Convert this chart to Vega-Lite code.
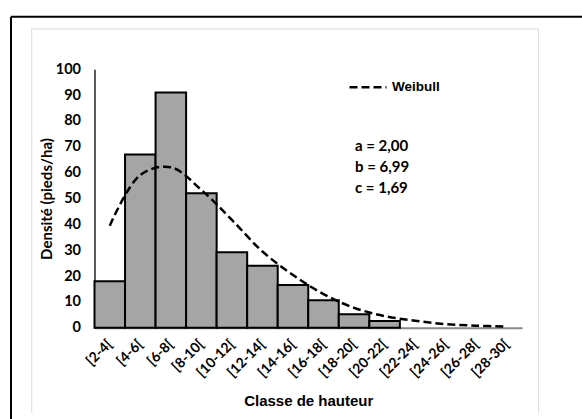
{
  "$schema": "https://vega.github.io/schema/vega-lite/v6.json",
  "width": 427.5,
  "height": 258.4,
  "autosize": {"type": "none"},
  "padding": {"left": 94.5, "top": 69.3, "right": 60, "bottom": 91.3},
  "background": "white",
  "config": {
    "view": {"stroke": null},
    "axis": {"grid": false, "ticks": false, "labelColor": "black", "titleColor": "black"}
  },
  "datasets": {
    "classes": [
      {"classe": "[2-4[", "debut": 2, "fin": 4, "centre": 3, "densite": 18, "weibull": 39.5},
      {"classe": "[4-6[", "debut": 4, "fin": 6, "centre": 5, "densite": 67, "weibull": 59.1},
      {"classe": "[6-8[", "debut": 6, "fin": 8, "centre": 7, "densite": 91, "weibull": 62.1},
      {"classe": "[8-10[", "debut": 8, "fin": 10, "centre": 9, "densite": 52, "weibull": 53.3},
      {"classe": "[10-12[", "debut": 10, "fin": 12, "centre": 11, "densite": 29.2, "weibull": 41.7},
      {"classe": "[12-14[", "debut": 12, "fin": 14, "centre": 13, "densite": 24, "weibull": 29.5},
      {"classe": "[14-16[", "debut": 14, "fin": 16, "centre": 15, "densite": 16.5, "weibull": 20.4},
      {"classe": "[16-18[", "debut": 16, "fin": 18, "centre": 17, "densite": 10.6, "weibull": 13.0},
      {"classe": "[18-20[", "debut": 18, "fin": 20, "centre": 19, "densite": 5.2, "weibull": 7.7},
      {"classe": "[20-22[", "debut": 20, "fin": 22, "centre": 21, "densite": 2.6, "weibull": 4.5},
      {"classe": "[22-24[", "debut": 22, "fin": 24, "centre": 23, "densite": 0, "weibull": 2.7},
      {"classe": "[24-26[", "debut": 24, "fin": 26, "centre": 25, "densite": 0, "weibull": 1.4},
      {"classe": "[26-28[", "debut": 26, "fin": 28, "centre": 27, "densite": 0, "weibull": 0.8},
      {"classe": "[28-30[", "debut": 28, "fin": 30, "centre": 29, "densite": 0, "weibull": 0.4}
    ]
  },
  "layer": [
    {
      "data": {"name": "classes"},
      "transform": [{"filter": "datum.densite > 0"}],
      "mark": {"type": "rect", "fill": "#a5a5a5", "stroke": "black", "strokeWidth": 2},
      "encoding": {
        "x": {
          "field": "debut",
          "type": "quantitative",
          "scale": {"domain": [2, 30], "nice": false, "zero": false},
          "axis": {
            "values": [3, 5, 7, 9, 11, 13, 15, 17, 19, 21, 23, 25, 27, 29],
            "tickCount": 14,
            "labelExpr": "'[' + (datum.value - 1) + '-' + (datum.value + 1) + '['",
            "labelOverlap": false,
            "labelAngle": -45,
            "labelAlign": "right",
            "labelBaseline": "middle",
            "labelPadding": 14,
            "labelFont": "Lato",
            "labelFontWeight": "bold",
            "labelFontSize": 14,
            "domainColor": "#868686",
            "domainWidth": 2,
            "title": "Classe de hauteur",
            "titleFont": "Liberation Sans",
            "titleFontWeight": "bold",
            "titleFontSize": 15,
            "titleBaseline": "alphabetic",
            "titleY": 78
          }
        },
        "x2": {"field": "fin"},
        "y": {
          "field": "densite",
          "type": "quantitative",
          "scale": {"domain": [0, 100], "nice": false},
          "axis": {
            "values": [0, 10, 20, 30, 40, 50, 60, 70, 80, 90, 100],
            "tickCount": 11,
            "labelOverlap": false,
            "labelPadding": 14,
            "labelFont": "Lato",
            "labelFontWeight": "bold",
            "labelFontSize": 14.5,
            "domainColor": "black",
            "domainWidth": 1.3,
            "title": "Densité (pieds/ha)",
            "titleFont": "Lato",
            "titleFontWeight": "bold",
            "titleFontSize": 15,
            "titleBaseline": "middle",
            "titleX": -48
          }
        },
        "y2": {"datum": 0}
      }
    },
    {
      "data": {"values": [{}]},
      "mark": {"type": "rule", "color": "#d9d9d9", "strokeWidth": 1},
      "encoding": {
        "x": {"datum": -2.11, "type": "quantitative"},
        "y": {"datum": 115.6, "type": "quantitative"},
        "y2": {"datum": -33}
      }
    },
    {
      "data": {"values": [{}]},
      "mark": {"type": "rule", "color": "#d9d9d9", "strokeWidth": 1},
      "encoding": {
        "x": {"datum": 31.09, "type": "quantitative"},
        "y": {"datum": 115.6, "type": "quantitative"},
        "y2": {"datum": -33}
      }
    },
    {
      "data": {"values": [{}]},
      "mark": {"type": "rule", "color": "#d9d9d9", "strokeWidth": 1},
      "encoding": {
        "x": {"datum": -2.11, "type": "quantitative"},
        "x2": {"datum": 31.09},
        "y": {"datum": 115.6, "type": "quantitative"}
      }
    },
    {
      "data": {"values": [{}]},
      "mark": {"type": "rule", "color": "black", "strokeWidth": 2},
      "encoding": {
        "x": {"datum": -3.47, "type": "quantitative"},
        "x2": {"datum": 34.5},
        "y": {"datum": 120.3, "type": "quantitative"}
      }
    },
    {
      "data": {"values": [{}]},
      "mark": {"type": "rule", "color": "black", "strokeWidth": 2},
      "encoding": {
        "x": {"datum": -3.47, "type": "quantitative"},
        "y": {"datum": 120.3, "type": "quantitative"},
        "y2": {"datum": -40}
      }
    },
    {
      "data": {"name": "classes"},
      "mark": {"type": "line", "color": "black", "strokeWidth": 2.5, "interpolate": "catmull-rom"},
      "encoding": {
        "x": {"field": "centre", "type": "quantitative"},
        "y": {"field": "weibull", "type": "quantitative"},
        "strokeDash": {
          "datum": "Weibull",
          "scale": {"range": [[8, 4]]},
          "legend": {
            "title": null,
            "orient": "none",
            "legendX": 253.5,
            "legendY": -2,
            "padding": 0,
            "symbolType": "stroke",
            "symbolSize": 1369,
            "symbolStrokeWidth": 2.5,
            "symbolStrokeColor": "black",
            "labelFont": "Liberation Sans",
            "labelFontWeight": "bold",
            "labelFontSize": 13.5,
            "labelColor": "black",
            "labelOffset": 4
          }
        }
      }
    },
    {
      "data": {"values": [{}]},
      "mark": {
        "type": "text",
        "align": "left",
        "baseline": "middle",
        "font": "Lato",
        "fontWeight": "bold",
        "fontSize": 15,
        "lineHeight": 21,
        "color": "black"
      },
      "encoding": {
        "x": {"datum": 19.06, "type": "quantitative"},
        "y": {"datum": 70.3, "type": "quantitative"},
        "text": {"value": ["a = 2,00", "b = 6,99", "c = 1,69"]}
      }
    }
  ]
}
